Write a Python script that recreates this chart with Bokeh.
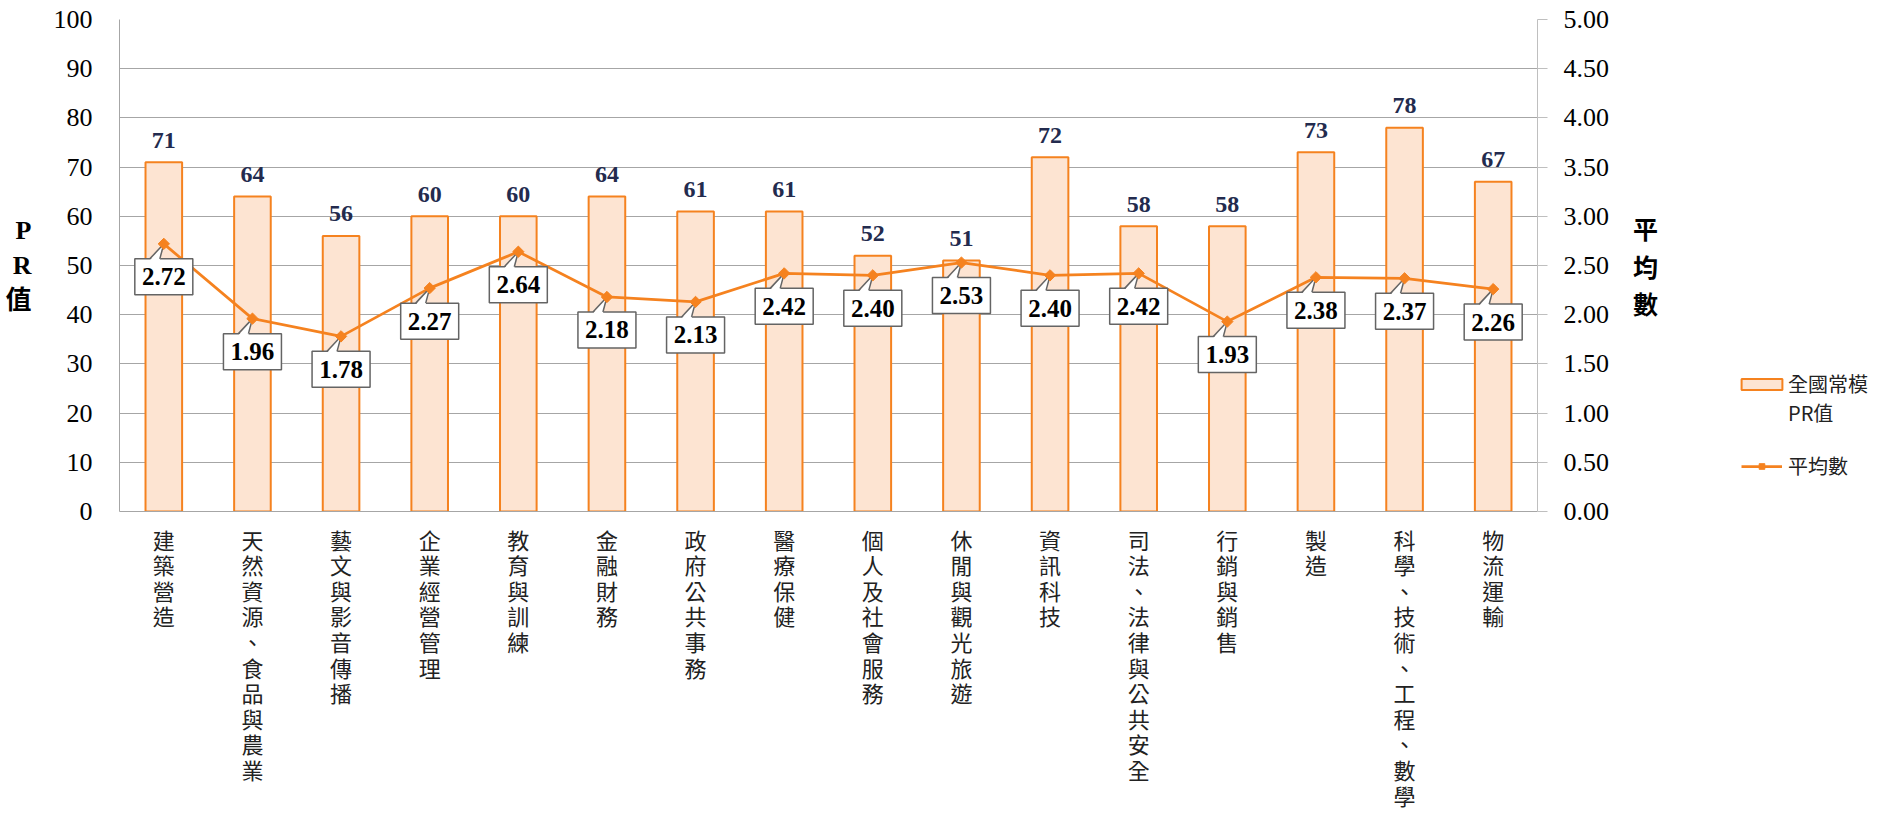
import math
from bokeh.plotting import figure
from bokeh.layouts import row
from bokeh.models import (Range1d, LinearAxis, FixedTicker, Legend, LegendItem,
                          ColumnDataSource, NumeralTickFormatter)
from bokeh.core.properties import value
from bokeh.embed import file_html
from bokeh.resources import INLINE

# ---------------- data ----------------
categories = ["建築營造", "天然資源、食品與農業", "藝文與影音傳播", "企業經營管理", "教育與訓練",
              "金融財務", "政府公共事務", "醫療保健", "個人及社會服務", "休閒與觀光旅遊",
              "資訊科技", "司法、法律與公共安全", "行銷與銷售", "製造", "科學、技術、工程、數學",
              "物流運輸"]
pr_values = [71, 64, 56, 60, 60, 64, 61, 61, 52, 51, 72, 58, 58, 73, 78, 67]
mean_values = [2.72, 1.96, 1.78, 2.27, 2.64, 2.18, 2.13, 2.42, 2.40, 2.53, 2.40, 2.42,
               1.93, 2.38, 2.37, 2.26]
pr_ticks = [0, 10, 20, 30, 40, 50, 60, 70, 80, 90, 100]
mean_ticks = [0.0, 0.5, 1.0, 1.5, 2.0, 2.5, 3.0, 3.5, 4.0, 4.5, 5.0]
bar_legend = "全國常模"
bar_legend2 = "PR值"
line_legend = "平均數"
left_title = "P\nR\n值"
right_title = "平\n均\n數"

# ---------------- layout / style ----------------
FRAME_W, FRAME_H = 1418, 492
LEFT, TOP = 119, 19
MAIN_W, FIG_H = 1700, 814
LEG_W = 172
N = len(categories)
CAT_PX = FRAME_W / N
MEAN_PX = FRAME_H / (mean_ticks[-1] - mean_ticks[0])

ORANGE = "#F5821F"
BAR_FILL = "#FDE4D2"
GRID = "#A6A6A6"
SERIF = "Liberation Serif"
CJK = "Noto Sans CJK TC"
MIX = "'Liberation Serif', 'Noto Sans CJK TC'"
BAR_STYLE = dict(fill_color=BAR_FILL, line_color=ORANGE, line_width=2)
LINE_STYLE = dict(line_color=ORANGE, line_width=2.75)
MARK_STYLE = dict(marker="square", angle=math.pi / 4, size=8, fill_color=ORANGE, line_color=ORANGE)

idx = list(range(N))
BOX_TOP = 15
BOX_H = 36
box_y = [m - (BOX_TOP + BOX_H / 2) / MEAN_PX for m in mean_values]
w_xs, w_ys, e_xs, e_ys = [], [], [], []
for i, m in zip(idx, mean_values):
    xl, xr = i - 14 / CAT_PX, i - 4 / CAT_PX
    yb = m - (BOX_TOP + 1.5) / MEAN_PX
    yt = m - BOX_TOP / MEAN_PX
    w_xs.append([xl, i, xr])
    w_ys.append([yb, m, yb])
    e_xs += [[xl, i], [xr, i]]
    e_ys += [[yt, m], [yt, m]]

src = ColumnDataSource(dict(
    x=idx, pr=pr_values, mean=mean_values, box_y=box_y,
    pr_lbl=[str(v) for v in pr_values],
    mean_lbl=[f"{v:.2f}" for v in mean_values],
))

p = figure(frame_width=FRAME_W, frame_height=FRAME_H,
           min_border_left=LEFT, min_border_top=TOP,
           min_border_right=MAIN_W - LEFT - FRAME_W, min_border_bottom=FIG_H - TOP - FRAME_H,
           x_range=Range1d(-0.5, N - 0.5), y_range=Range1d(pr_ticks[0], pr_ticks[-1]),
           output_backend="svg", toolbar_location=None, outline_line_color=None,
           background_fill_color="white", border_fill_color="white")
p.extra_y_ranges = {"mean": Range1d(mean_ticks[0], mean_ticks[-1])}

# grid
p.xgrid.visible = False
p.ygrid.ticker = FixedTicker(ticks=pr_ticks)
p.ygrid.grid_line_color = GRID
p.ygrid.grid_line_width = 1

# left axis
ya = p.yaxis[0]
ya.ticker = FixedTicker(ticks=pr_ticks)
ya.major_label_text_font = SERIF
ya.major_label_text_font_size = "26px"
ya.major_label_text_color = "black"
ya.major_tick_out = 0
ya.major_tick_in = 0
ya.minor_tick_line_color = None
ya.axis_line_color = GRID
ya.major_label_standoff = 27
ya.axis_label = left_title
ya.axis_label_orientation = "horizontal"
ya.axis_label_standoff = 19
ya.axis_label_text_font = MIX
ya.axis_label_text_font_style = "bold"
ya.axis_label_text_font_size = "26px"
ya.axis_label_text_line_height = 1.2
ya.axis_label_text_color = "black"

# right axis
ra = LinearAxis(y_range_name="mean", ticker=FixedTicker(ticks=mean_ticks),
                formatter=NumeralTickFormatter(format="0.00"))
ra.major_label_text_font = SERIF
ra.major_label_text_font_size = "26px"
ra.major_label_text_color = "black"
ra.major_tick_out = 10
ra.major_tick_in = 0
ra.major_tick_line_color = "#BFBFBF"
ra.minor_tick_line_color = None
ra.axis_line_color = "#BFBFBF"
ra.major_label_standoff = 16
ra.axis_label = right_title
ra.axis_label_orientation = "horizontal"
ra.axis_label_standoff = 21
ra.axis_label_text_font = CJK
ra.axis_label_text_font_style = "bold"
ra.axis_label_text_font_size = "25px"
ra.axis_label_text_line_height = 1.05
ra.axis_label_text_color = "black"
p.add_layout(ra, "right")

# bottom axis
xa = p.xaxis[0]
xa.ticker = FixedTicker(ticks=idx)
xa.major_label_overrides = {i: "\n".join(c) for i, c in zip(idx, categories)}
xa.major_label_text_font = CJK
xa.major_label_text_font_size = "22px"
xa.major_label_text_line_height = 0.80
xa.major_label_text_color = "#222222"
xa.major_tick_out = 0
xa.major_tick_in = 0
xa.minor_tick_line_color = None
xa.axis_line_color = GRID
xa.major_label_standoff = 11

# bars
p.vbar(x="x", top="pr", bottom=0, width=36.6 / CAT_PX, source=src, **BAR_STYLE)
p.text(x="x", y="pr", text="pr_lbl", source=src, y_offset=-22,
       text_align="center", text_baseline="alphabetic",
       text_font=value(SERIF), text_font_style="bold", text_font_size="24px",
       text_color="#232B4E")

# mean line
p.line(x="x", y="mean", source=src, y_range_name="mean", **LINE_STYLE)

# callout boxes
p.rect(x="x", y="box_y", width=58, height=BOX_H, width_units="screen", height_units="screen",
       source=src, y_range_name="mean", fill_color="white", line_color="#646464", line_width=1.5)
p.patches(xs=w_xs, ys=w_ys, y_range_name="mean", fill_color="white", line_color=None)
p.multi_line(xs=e_xs, ys=e_ys, y_range_name="mean", line_color="#646464", line_width=1.5)
p.scatter(x="x", y="mean", source=src, y_range_name="mean", **MARK_STYLE)
p.text(x="x", y="mean", text="mean_lbl", source=src, y_range_name="mean",
       y_offset=BOX_TOP + BOX_H / 2, text_align="center", text_baseline="middle",
       text_font=value(SERIF), text_font_style="bold", text_font_size="25px", text_color="black")

# ---------------- legend panel (separate figure; hidden legend proxies) ----------------
lf = figure(width=LEG_W, height=FIG_H, min_border=0,
            x_range=Range1d(1000, 2000), y_range=Range1d(1000, 2000),
            output_backend="svg", toolbar_location=None, outline_line_color=None,
            background_fill_color="white", border_fill_color="white")
lf.axis.visible = False
lf.grid.visible = False
lb = lf.vbar(x="x", top="pr", width=0.4, source=src, visible=False, **BAR_STYLE)
lblank = lf.scatter(x="x", y="pr", source=src, fill_alpha=0, line_alpha=0, visible=False)
ll = lf.line(x="x", y="mean", source=src, visible=False, **LINE_STYLE)
lm = lf.scatter(x="x", y="mean", source=src, visible=False, **MARK_STYLE)

LEG_COMMON = dict(padding=0, margin=0, label_height=14, border_line_color=None,
                  background_fill_alpha=0, inactive_fill_alpha=0,
                  label_text_font=CJK, label_text_font_size="20px",
                  label_text_line_height=0.82, label_text_color="#222222")
leg_a = Legend(items=[LegendItem(label=bar_legend, renderers=[lb]),
                      LegendItem(label=bar_legend2, renderers=[lblank])],
               location=(1736 - MAIN_W, 84), glyph_width=51, glyph_height=14,
               label_standoff=1, spacing=0, **LEG_COMMON)
leg_b = Legend(items=[LegendItem(label=line_legend, renderers=[ll, lm])],
               location=(1741 - MAIN_W, 31), glyph_width=41, glyph_height=14,
               label_standoff=6, spacing=0, **LEG_COMMON)
lf.add_layout(leg_a)
lf.add_layout(leg_b)

layout = row(p, lf, spacing=0)
open("out.html", "w").write(file_html(layout, INLINE))
